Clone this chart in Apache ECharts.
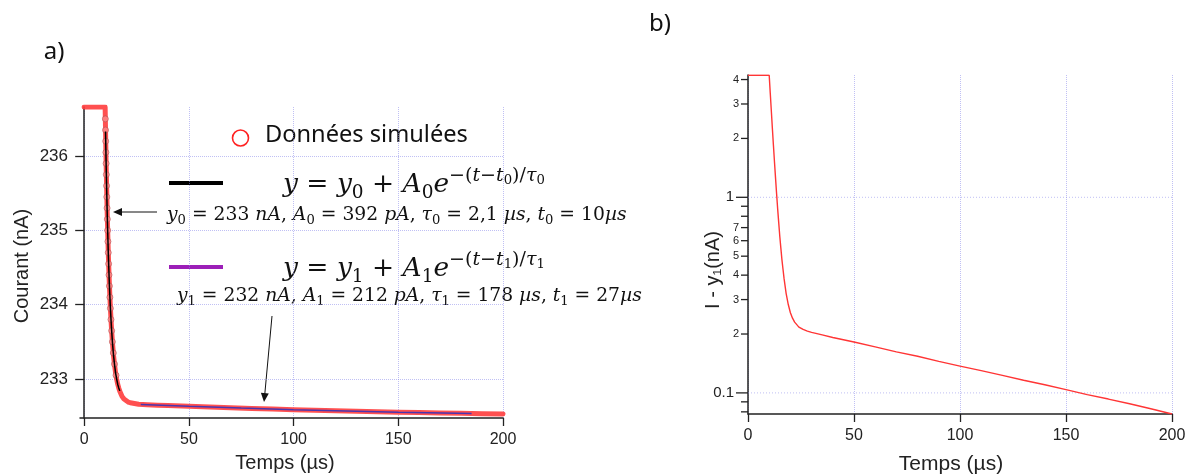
<!DOCTYPE html>
<html><head><meta charset="utf-8">
<script src="https://cdn.jsdelivr.net/npm/echarts@6/dist/echarts.min.js"></script>
<style>html,body{margin:0;padding:0;background:#fff}#c{width:1192px;height:474px}</style>
</head><body><div id="c"></div>
<script>
// ---- data ----
const timeUs = [0, 2, 4, 6, 8, 10, 10.5, 11, 11.5, 12, 12.5, 13, 13.5, 14, 14.5, 15, 15.5, 16, 16.5, 17, 18, 19, 20, 21, 22, 24, 26, 28, 30, 35, 40, 50, 60, 70, 80, 90, 100, 110, 120, 130, 140, 150, 160, 170, 180, 190, 200];
const currentNA = [236.66, 236.66, 236.66, 236.66, 236.66, 236.66, 235.86, 235.22, 234.70, 234.29, 233.96, 233.70, 233.49, 233.32, 233.19, 233.08, 233.00, 232.93, 232.88, 232.835, 232.77, 232.73, 232.71, 232.69, 232.68, 232.67, 232.66, 232.657, 232.654, 232.648, 232.642, 232.632, 232.622, 232.612, 232.604, 232.595, 232.587, 232.580, 232.573, 232.566, 232.560, 232.554, 232.548, 232.543, 232.538, 232.533, 232.528];
const diffNA = [4.21, 4.21, 4.21, 4.21, 4.21, 4.21, 3.41, 2.77, 2.25, 1.84, 1.51, 1.25, 1.04, 0.87, 0.74, 0.63, 0.55, 0.48, 0.43, 0.385, 0.322, 0.283, 0.257, 0.241, 0.230, 0.217, 0.211, 0.207, 0.204, 0.198, 0.192, 0.182, 0.172, 0.162, 0.154, 0.145, 0.137, 0.130, 0.123, 0.116, 0.110, 0.104, 0.098, 0.093, 0.088, 0.083, 0.078];
const steepTimeUs = [10.10, 10.19, 10.28, 10.37, 10.47, 10.58, 10.69, 10.80, 10.93, 11.06, 11.19, 11.34, 11.50, 11.67, 11.85, 12.05, 12.27, 12.52, 12.79, 13.11, 13.47, 13.91, 14.47, 15.21];
const steepCurrentNA = [236.5, 236.35, 236.2, 236.05, 235.9, 235.75, 235.6, 235.45, 235.3, 235.15, 235.0, 234.85, 234.7, 234.55, 234.4, 234.25, 234.1, 233.95, 233.8, 233.65, 233.5, 233.35, 233.2, 233.05];
const fit0TimeUs = [10.2, 10.5, 11, 11.5, 12, 12.5, 13, 13.5, 14, 14.5, 15, 15.5, 16, 16.5, 17];
const fit0CurrentNA = [236.33, 235.86, 235.22, 234.70, 234.29, 233.96, 233.70, 233.49, 233.32, 233.19, 233.08, 233.00, 232.93, 232.88, 232.84];
const fit1TimeUs = [27, 50, 75, 100, 125, 150, 185];
const fit1CurrentNA = [232.657, 232.632, 232.608, 232.587, 232.569, 232.554, 232.535];
const xTicks = [0, 50, 100, 150, 200];
const leftYTicks = [233, 234, 235, 236];
const logTickValues = [0.08, 0.09, 0.1, 0.2, 0.3, 0.4, 0.5, 0.6, 0.7, 0.8, 0.9, 1, 2, 3, 4];
const logTickLabels = ['', '', '0.1', '2', '3', '4', '5', '6', '7', '', '', '1', '2', '3', '4'];
const logMajor = [0.1, 1];

const pairs = (xs, ys) => xs.map((x, i) => [x, ys[i]]);
const AX = '#222';
const GRID = 'rgba(140,140,235,0.55)';
const SANS = '"Liberation Sans", Arial, sans-serif';
const SERIF = '"DejaVu Serif"';

// text layout helper for the annotations (fits a run of pieces to a width)
const ctx = document.createElement('canvas').getContext('2d');
function tw(t, size, it, fam) { ctx.font = (it ? 'italic ' : '') + size + 'px ' + fam; return ctx.measureText(t).width; }
function runText(x0, base, width, pieces, fam, color) {
  let total = 0;
  pieces.forEach(p => total += tw(p[0], 100 * p[2], p[1], fam));
  const S = 100 * width / total;
  let x = x0; const els = [];
  pieces.forEach(p => {
    const size = S * p[2];
    els.push({ type: 'text', x: x, y: base + p[3] * S - 0.33 * size, silent: true,
      style: { text: p[0], font: (p[1] ? 'italic ' : '') + size.toFixed(2) + 'px ' + fam, fill: color || '#111', verticalAlign: 'middle', align: 'left' } });
    x += tw(p[0], size, p[1], fam);
  });
  return els;
}
function eqPieces(k) {
  const u = 0.72, su = -0.45, ss = 0.5, sd = -0.33;
  return [['y',1,1,0],[' = ',0,1,0],['y',1,1,0],[k,0,0.7,0.2],[' + ',0,1,0],['A',1,1,0],[k,0,0.7,0.2],['e',1,1,0],
    ['\u2212(',0,u,su],['t',1,u,su],['\u2212',0,u,su],['t',1,u,su],[k,0,ss,sd],[')/',0,u,su],['\u03c4',1,u,su],[k,0,ss,sd]];
}
function parPieces(k, y, a, tau, t0, sp) {
  const s = [k,0,0.7,0.2];
  return [['y',1,1,0],s,[' = ' + y + ' ',0,1,0],['nA',1,1,0],[', ',0,1,0],['A',1,1,0],s,[' = ' + a + ' ',0,1,0],['pA',1,1,0],[', ',0,1,0],
    ['\u03c4',1,1,0],s,[' = ' + tau + ' ',0,1,0],['\u00b5s',1,1,0],[', ',0,1,0],['t',1,1,0],s,[' = ' + t0,0,1,0],['\u00b5s',1,1,0]];
}

const graphics = [].concat(
  [{ type: 'text', x: 54, y: 52, style: { text: 'a)', font: '24px "Noto Sans"', fill: '#111', align: 'center', verticalAlign: 'middle' } },
   { type: 'text', x: 660, y: 24, style: { text: 'b)', font: '24px "Noto Sans"', fill: '#111', align: 'center', verticalAlign: 'middle' } },
   { type: 'text', x: 22, y: 266, rotation: Math.PI / 2, style: { text: 'Courant (nA)', font: '20px ' + SANS, fill: AX, align: 'center', verticalAlign: 'middle' } },
   { type: 'text', x: 285, y: 463, style: { text: 'Temps (\u00b5s)', font: '20px ' + SANS, fill: AX, align: 'center', verticalAlign: 'middle' } },
   { type: 'text', x: 713, y: 270, rotation: Math.PI / 2, style: { text: 'I - y\u2081(nA)', font: '20px ' + SANS, fill: AX, align: 'center', verticalAlign: 'middle' } },
   { type: 'text', x: 951, y: 464, style: { text: 'Temps (\u00b5s)', font: '21px ' + SANS, fill: AX, align: 'center', verticalAlign: 'middle' } },
   { type: 'circle', shape: { cx: 240.5, cy: 138, r: 8 }, style: { fill: 'none', stroke: '#ff2222', lineWidth: 1.6 } },
   { type: 'line', shape: { x1: 169, y1: 183, x2: 223, y2: 183 }, style: { stroke: '#000', lineWidth: 4 } },
   { type: 'line', shape: { x1: 169, y1: 267, x2: 223, y2: 267 }, style: { stroke: '#9c1fb8', lineWidth: 4 } },
   { type: 'line', shape: { x1: 121, y1: 212, x2: 157, y2: 212 }, style: { stroke: '#111', lineWidth: 1 } },
   { type: 'polygon', shape: { points: [[113, 212], [122, 208], [122, 216]] }, style: { fill: '#111' } },
   { type: 'line', shape: { x1: 272, y1: 316, x2: 264.8, y2: 394 }, style: { stroke: '#111', lineWidth: 1 } },
   { type: 'polygon', shape: { points: [[264, 402], [268.8, 393.4], [260.9, 392.7]] }, style: { fill: '#111' } }
  ],
  runText(265, 143, 203, [['Donn\u00e9es simul\u00e9es', 0, 1, 0]], '"Noto Sans"', '#111'),
  runText(283, 194, 262, eqPieces('0'), SERIF),
  runText(283, 278, 262, eqPieces('1'), SERIF),
  runText(167, 221, 460, parPieces('0', '233', '392', '2,1', '10'), SERIF),
  runText(177, 302, 465, parPieces('1', '232', '212', '178', '27'), SERIF)
);

const axisLine = { lineStyle: { color: AX, width: 1.5 } };
const chart = echarts.init(document.getElementById('c'), null, { renderer: 'canvas' });
chart.setOption({
  animation: false,
  backgroundColor: '#fff',
  grid: [
    { left: 80, top: 107, width: 423, height: 311, outerBoundsMode: 'none', containLabel: false },
    { left: 748, top: 75, width: 424, height: 339, outerBoundsMode: 'none', containLabel: false }
  ],
  xAxis: [
    { type: 'value', gridIndex: 0, min: -2, max: 200, axisLine,
      axisTick: { length: 8, customValues: xTicks, lineStyle: { color: AX, width: 1.3 } },
      axisLabel: { customValues: xTicks, fontSize: 16, margin: 14, color: AX, fontFamily: SANS },
      splitLine: { show: true, lineStyle: { color: GRID, type: 'dotted', width: 1 } } },
    { type: 'value', gridIndex: 1, min: 0, max: 200, interval: 50, axisLine,
      axisTick: { length: 8, lineStyle: { color: AX, width: 1.3 } },
      axisLabel: { fontSize: 16, margin: 14, color: AX, fontFamily: SANS },
      splitLine: { show: true, lineStyle: { color: GRID, type: 'dotted', width: 1 } } }
  ],
  yAxis: [
    { type: 'value', gridIndex: 0, min: 232.475, max: 236.66, axisLine,
      axisTick: { length: 9, customValues: leftYTicks, lineStyle: { color: AX, width: 1.3 } },
      axisLabel: { customValues: leftYTicks, fontSize: 17, margin: 12, color: AX, fontFamily: SANS },
      splitLine: { show: true, lineStyle: { color: GRID, type: 'dotted', width: 1 } } },
    { type: 'log', logBase: 10, gridIndex: 1, min: 0.078, max: 4.22, axisLine,
      axisTick: { show: false }, axisLabel: { show: false }, splitLine: { show: false } }
  ],
  graphic: graphics,
  series: [
    { type: 'line', xAxisIndex: 0, yAxisIndex: 0, data: pairs(timeUs, currentNA), symbol: 'none', z: 2,
      lineStyle: { color: '#ff3d3d', width: 5, cap: 'round', join: 'round', opacity: 0.9 } },
    { type: 'scatter', xAxisIndex: 0, yAxisIndex: 0, data: pairs(steepTimeUs, steepCurrentNA), symbolSize: 6, z: 3,
      itemStyle: { color: 'rgba(255,160,160,0.7)', borderColor: 'rgba(190,80,80,0.85)', borderWidth: 1 } },
    { type: 'line', xAxisIndex: 0, yAxisIndex: 0, data: pairs(fit0TimeUs, fit0CurrentNA), symbol: 'none', z: 4,
      lineStyle: { color: '#000', width: 1.5 } },
    { type: 'line', xAxisIndex: 0, yAxisIndex: 0, data: pairs(fit1TimeUs, fit1CurrentNA), symbol: 'none', z: 4,
      lineStyle: { color: '#4a35b0', width: 1.5 } },
    { type: 'line', xAxisIndex: 1, yAxisIndex: 1, data: pairs(timeUs, diffNA), symbol: 'none', z: 3,
      lineStyle: { color: '#ff3535', width: 1.4 } },
    { type: 'custom', xAxisIndex: 1, yAxisIndex: 1, z: 1, silent: true, clip: false,
      data: logTickValues.map((v, i) => [0, v, i]),
      encode: { x: 0, y: 1 },
      renderItem: function (params, api) {
        const v = api.value(1);
        const i = params.dataIndex;
        const p = api.coord([0, v]);
        const major = logMajor.indexOf(v) >= 0;
        const len = major ? 12 : 7;
        const children = [{ type: 'line', shape: { x1: p[0] - len, y1: p[1], x2: p[0], y2: p[1] }, style: { stroke: AX, lineWidth: 1.3 } }];
        if (logTickLabels[i]) children.push({ type: 'text', x: p[0] - len - 2, y: p[1],
          style: { text: logTickLabels[i], align: 'right', verticalAlign: 'middle', font: (major ? '15px ' : '11px ') + SANS, fill: AX } });
        if (major) { const q = api.coord([200, v]); children.push({ type: 'line', shape: { x1: p[0], y1: p[1], x2: q[0], y2: q[1] }, style: { stroke: GRID, lineWidth: 1, lineDash: [1, 2] } }); }
        return { type: 'group', children: children };
      } }
  ]
});
</script></body></html>
